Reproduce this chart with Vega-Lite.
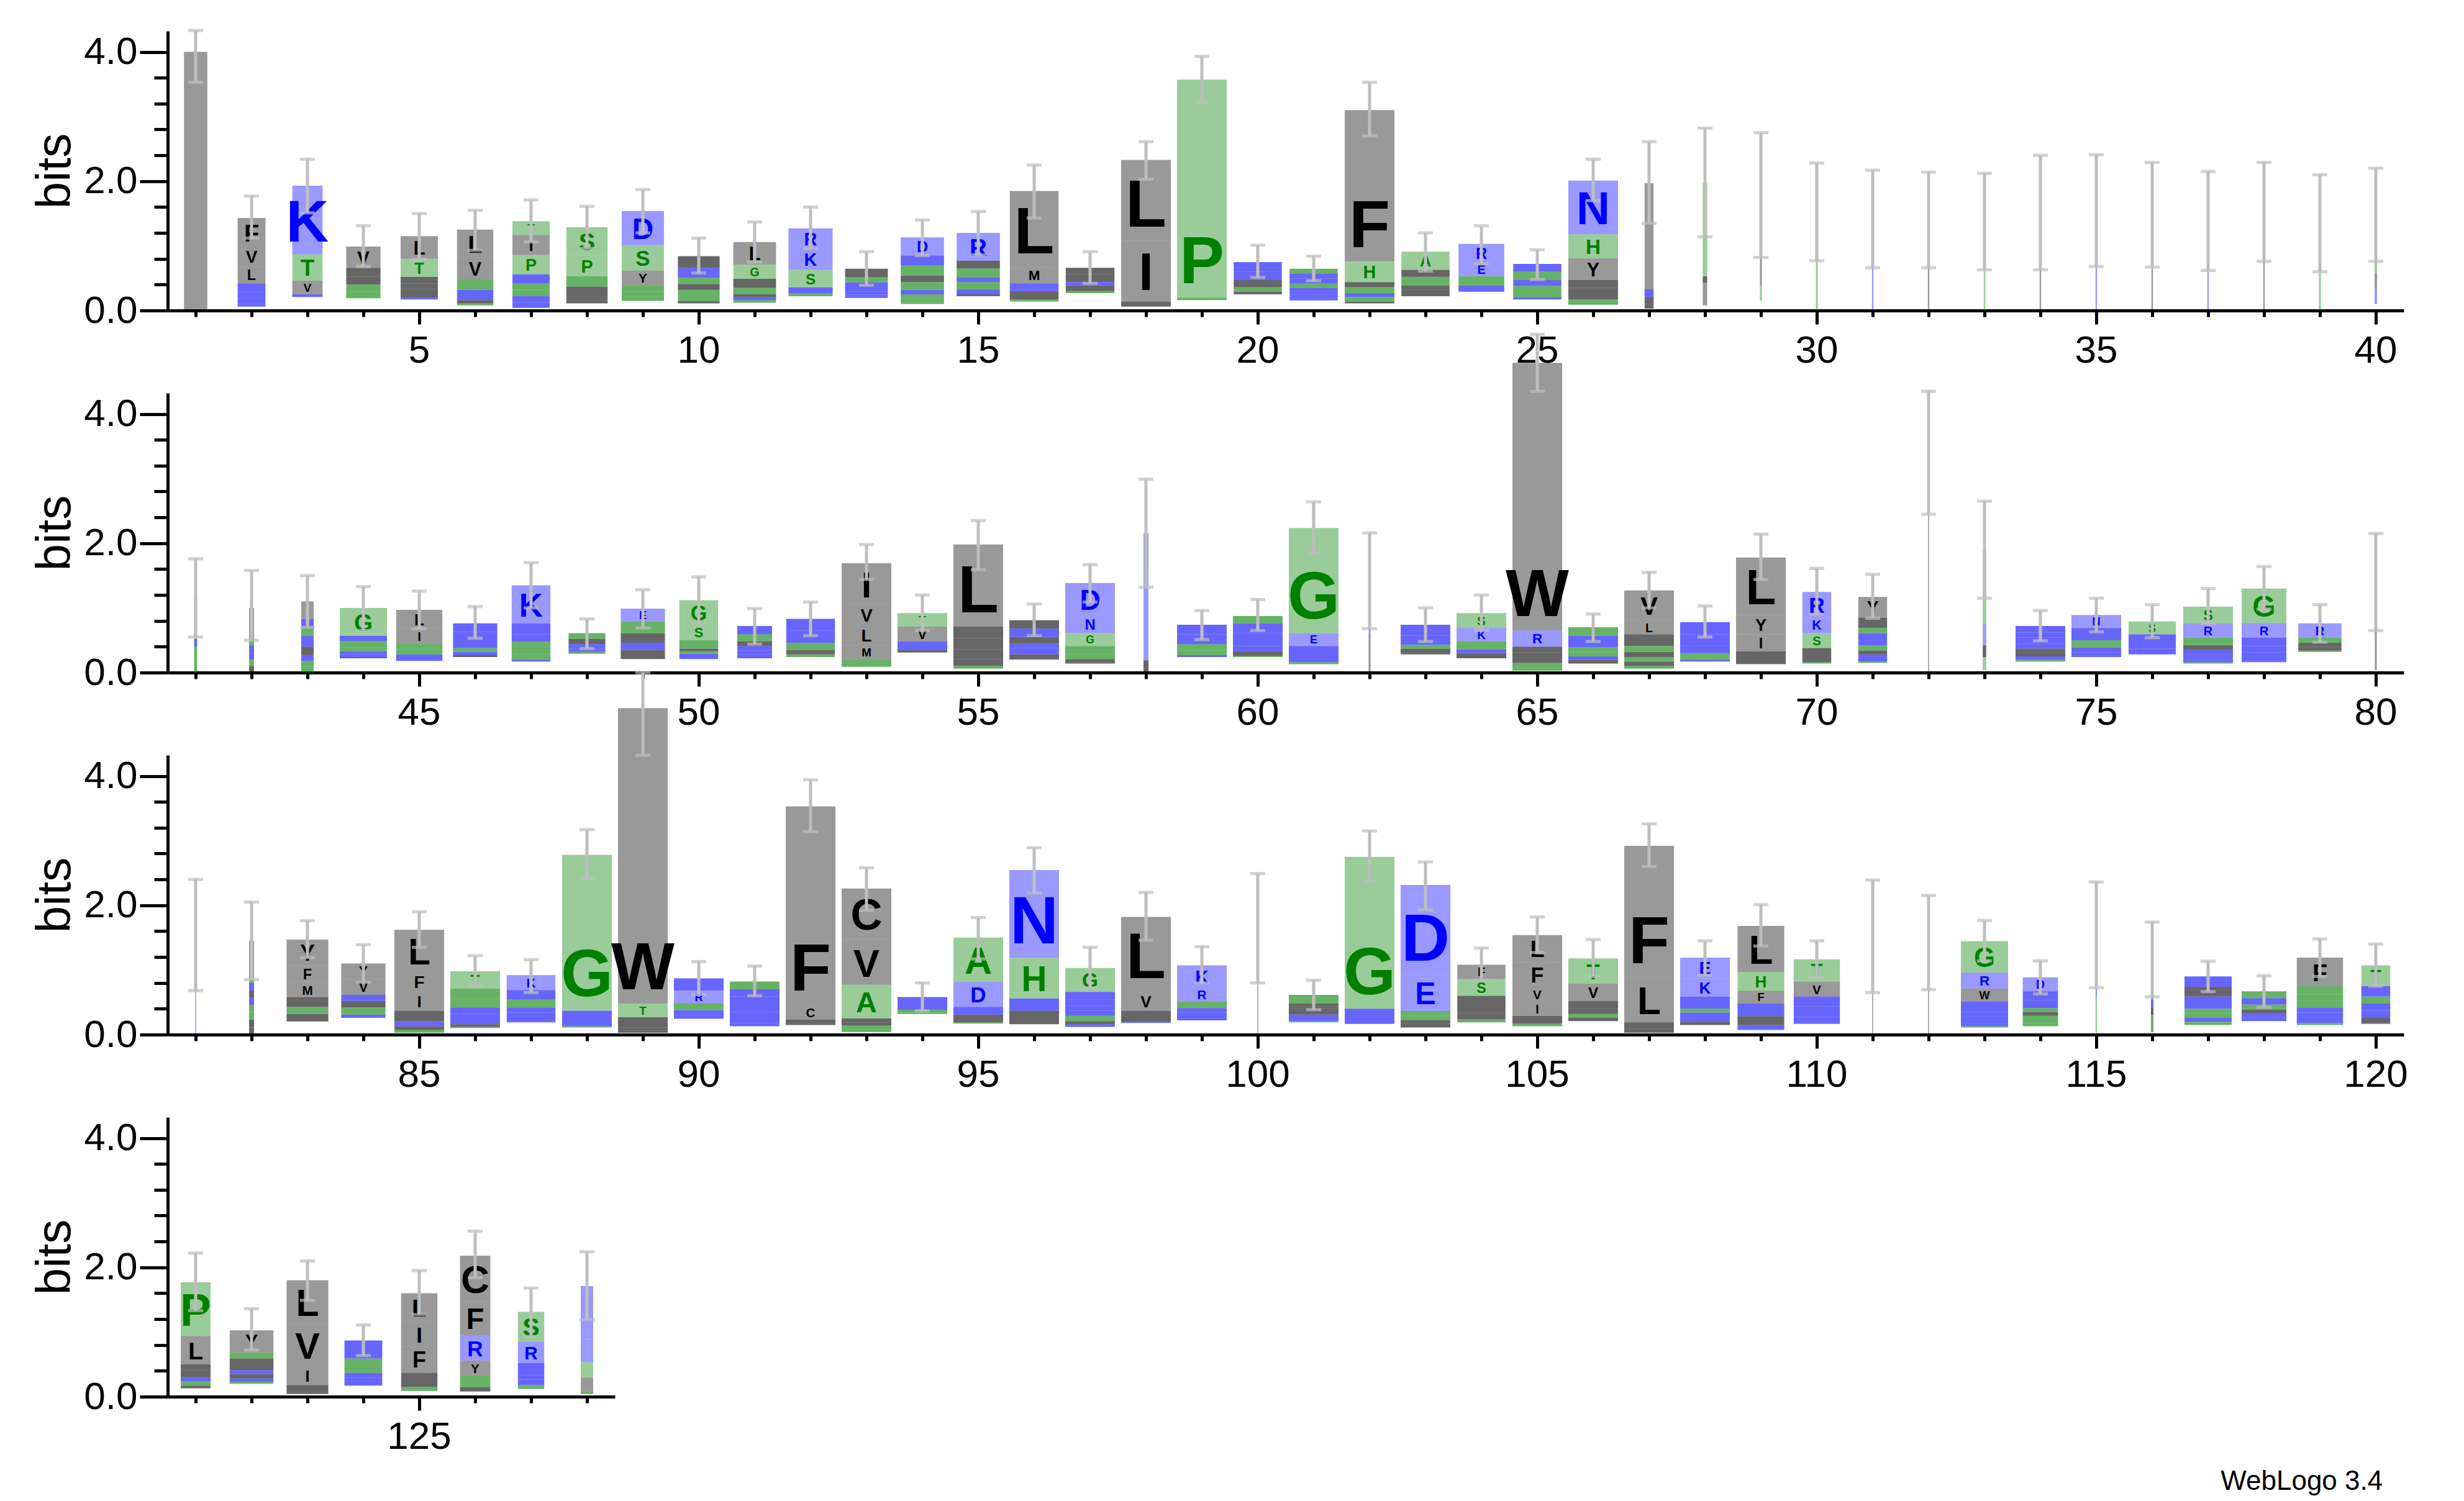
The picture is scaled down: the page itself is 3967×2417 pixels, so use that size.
{
"$schema": "https://vega.github.io/schema/vega-lite/v6.json",
"background": "white",
"padding": {"left": 50, "top": 46, "right": 10, "bottom": 10},
"bounds": "flush",
"spacing": 133,
"title": {"text": "WebLogo 3.4", "orient": "bottom", "anchor": "end", "fontSize": 44, "fontWeight": "normal", "font": "Liberation Sans", "color": "#000", "offset": 20, "dx": -40},
"config": {
 "view": {"stroke": null},
 "font": "Liberation Sans",
 "axis": {"domainWidth": 5, "tickWidth": 5, "domainColor": "#000", "tickColor": "#000", "labelColor": "#000", "titleColor": "#000", "labelFont": "Liberation Sans", "titleFont": "Liberation Sans", "labelFontSize": 62, "grid": false}
},
"datasets": {
"C": [
{"p":1,"lo":3.53,"hi":4.33},{"p":2,"lo":1.12,"hi":1.77},{"p":3,"lo":1.51,"hi":2.34},{"p":4,"lo":0.68,"hi":1.31},{"p":5,"lo":0.79,"hi":1.5},{"p":6,"lo":0.93,"hi":1.55},{"p":7,"lo":1.06,"hi":1.71},{"p":8,"lo":0.96,"hi":1.61},{"p":9,"lo":1.2,"hi":1.87},{"p":10,"lo":0.58,"hi":1.12},
{"p":11,"lo":0.75,"hi":1.37},{"p":12,"lo":0.96,"hi":1.6},{"p":13,"lo":0.39,"hi":0.91},{"p":14,"lo":0.85,"hi":1.4},{"p":15,"lo":0.86,"hi":1.53},{"p":16,"lo":1.43,"hi":2.25},{"p":17,"lo":0.42,"hi":0.91},{"p":18,"lo":2.03,"hi":2.61},{"p":19,"lo":3.22,"hi":3.93},{"p":20,"lo":0.51,"hi":1.01},
{"p":21,"lo":0.46,"hi":0.84},{"p":22,"lo":2.7,"hi":3.53},{"p":23,"lo":0.61,"hi":1.2},{"p":24,"lo":0.72,"hi":1.31},{"p":25,"lo":0.48,"hi":0.94},{"p":26,"lo":1.7,"hi":2.34},{"p":27,"lo":1.35,"hi":2.61},{"p":28,"lo":1.14,"hi":2.82},{"p":29,"lo":0.82,"hi":2.75},{"p":30,"lo":0.77,"hi":2.28},
{"p":31,"lo":0.66,"hi":2.17},{"p":32,"lo":0.66,"hi":2.14},{"p":33,"lo":0.63,"hi":2.12},{"p":34,"lo":0.63,"hi":2.4},{"p":35,"lo":0.68,"hi":2.41},{"p":36,"lo":0.67,"hi":2.29},{"p":37,"lo":0.62,"hi":2.15},{"p":38,"lo":0.76,"hi":2.29},{"p":39,"lo":0.6,"hi":2.1},{"p":40,"lo":0.76,"hi":2.2},
{"p":41,"lo":0.55,"hi":1.76},{"p":42,"lo":0.5,"hi":1.58},{"p":43,"lo":0.7,"hi":1.5},{"p":44,"lo":0.65,"hi":1.33},{"p":45,"lo":0.68,"hi":1.26},{"p":46,"lo":0.53,"hi":1.02},{"p":47,"lo":1.0,"hi":1.7},{"p":48,"lo":0.37,"hi":0.83},{"p":49,"lo":0.69,"hi":1.28},{"p":50,"lo":0.76,"hi":1.48},
{"p":51,"lo":0.44,"hi":0.99},{"p":52,"lo":0.57,"hi":1.09},{"p":53,"lo":1.44,"hi":1.98},{"p":54,"lo":0.65,"hi":1.2},{"p":55,"lo":1.59,"hi":2.35},{"p":56,"lo":0.57,"hi":1.06},{"p":57,"lo":1.09,"hi":1.67},{"p":58,"lo":1.32,"hi":2.99},{"p":59,"lo":0.51,"hi":0.96},{"p":60,"lo":0.65,"hi":1.13},
{"p":61,"lo":1.84,"hi":2.64},{"p":62,"lo":0.68,"hi":2.16},{"p":63,"lo":0.48,"hi":1.0},{"p":64,"lo":0.65,"hi":1.2},{"p":65,"lo":4.35,"hi":5.23},{"p":66,"lo":0.48,"hi":0.905},{"p":67,"lo":1.0,"hi":1.55},{"p":68,"lo":0.55,"hi":1.03},{"p":69,"lo":1.44,"hi":2.14},{"p":70,"lo":0.9,"hi":1.61},
{"p":71,"lo":0.84,"hi":1.52},{"p":72,"lo":2.45,"hi":4.35},{"p":73,"lo":1.15,"hi":2.65},{"p":74,"lo":0.49,"hi":0.96},{"p":75,"lo":0.63,"hi":1.15},{"p":76,"lo":0.54,"hi":1.05},{"p":77,"lo":0.76,"hi":1.3},{"p":78,"lo":0.98,"hi":1.64},{"p":79,"lo":0.47,"hi":1.05},{"p":80,"lo":0.65,"hi":2.15},
{"p":81,"lo":0.68,"hi":2.4},{"p":82,"lo":0.85,"hi":2.05},{"p":83,"lo":1.19,"hi":1.76},{"p":84,"lo":0.81,"hi":1.39},{"p":85,"lo":1.35,"hi":1.9},{"p":86,"lo":0.75,"hi":1.22},{"p":87,"lo":0.65,"hi":1.16},{"p":88,"lo":2.42,"hi":3.17},{"p":89,"lo":4.32,"hi":5.6},{"p":90,"lo":0.62,"hi":1.13},
{"p":91,"lo":0.6,"hi":1.06},{"p":92,"lo":3.14,"hi":3.94},{"p":93,"lo":1.92,"hi":2.58},{"p":94,"lo":0.37,"hi":0.8},{"p":95,"lo":1.17,"hi":1.81},{"p":96,"lo":2.19,"hi":2.89},{"p":97,"lo":0.725,"hi":1.35},{"p":98,"lo":1.46,"hi":2.2},{"p":99,"lo":0.8,"hi":1.36},{"p":100,"lo":0.8,"hi":2.49},
{"p":101,"lo":0.385,"hi":0.84},{"p":102,"lo":2.37,"hi":3.15},{"p":103,"lo":1.93,"hi":2.67},{"p":104,"lo":0.84,"hi":1.34},{"p":105,"lo":1.27,"hi":1.82},{"p":106,"lo":0.9,"hi":1.47},{"p":107,"lo":2.6,"hi":3.26},{"p":108,"lo":0.92,"hi":1.45},{"p":109,"lo":1.37,"hi":2.01},{"p":110,"lo":0.88,"hi":1.45},
{"p":111,"lo":0.65,"hi":2.39},{"p":112,"lo":0.695,"hi":2.15},{"p":113,"lo":1.14,"hi":1.765},{"p":114,"lo":0.63,"hi":1.14},{"p":115,"lo":0.725,"hi":2.36},{"p":116,"lo":0.585,"hi":1.74},{"p":117,"lo":0.665,"hi":1.135},{"p":118,"lo":0.42,"hi":0.91},{"p":119,"lo":0.9,"hi":1.48},{"p":120,"lo":0.75,"hi":1.4},
{"p":121,"lo":1.33,"hi":2.22},{"p":122,"lo":0.72,"hi":1.36},{"p":123,"lo":1.49,"hi":2.1},{"p":124,"lo":0.635,"hi":1.11},{"p":125,"lo":1.27,"hi":1.95},{"p":126,"lo":1.84,"hi":2.56},{"p":127,"lo":0.93,"hi":1.68},{"p":128,"lo":1.19,"hi":2.24}
],
"L": [
{"p":1,"w":0.47,"a":"M","b":4.0},
{"p":2,"w":0.56,"a":"-","b":0.06},{"p":2,"w":0.56,"a":"K","b":0.04},{"p":2,"w":0.56,"a":"Q","b":0.09},{"p":2,"w":0.56,"a":"D","b":0.09},{"p":2,"w":0.56,"a":"E","b":0.14},{"p":2,"w":0.56,"a":"L","b":0.26},{"p":2,"w":0.56,"a":"V","b":0.31},{"p":2,"w":0.56,"a":"F","b":0.44},
{"p":3,"w":0.61,"a":"-","b":0.21},{"p":3,"w":0.61,"a":"R","b":0.04},{"p":3,"w":0.61,"a":"V","b":0.21},{"p":3,"w":0.61,"a":"T","b":0.41},{"p":3,"w":0.61,"a":"K","b":1.06},
{"p":4,"w":0.69,"a":"-","b":0.19},{"p":4,"w":0.69,"a":"P","b":0.1},{"p":4,"w":0.69,"a":"A","b":0.11},{"p":4,"w":0.69,"a":"I","b":0.12},{"p":4,"w":0.69,"a":"L","b":0.14},{"p":4,"w":0.69,"a":"V","b":0.33},
{"p":5,"w":0.75,"a":"-","b":0.17},{"p":5,"w":0.75,"a":"K","b":0.03},{"p":5,"w":0.75,"a":"V","b":0.13},{"p":5,"w":0.75,"a":"M","b":0.09},{"p":5,"w":0.75,"a":"F","b":0.1},{"p":5,"w":0.75,"a":"T","b":0.28},{"p":5,"w":0.75,"a":"L","b":0.35},
{"p":6,"w":0.73,"a":"-","b":0.08},{"p":6,"w":0.73,"a":"S","b":0.03},{"p":6,"w":0.73,"a":"I","b":0.05},{"p":6,"w":0.73,"a":"R","b":0.07},{"p":6,"w":0.73,"a":"K","b":0.09},{"p":6,"w":0.73,"a":"T","b":0.16},{"p":6,"w":0.73,"a":"V","b":0.34},{"p":6,"w":0.73,"a":"L","b":0.43},
{"p":7,"w":0.75,"a":"-","b":0.04},{"p":7,"w":0.75,"a":"R","b":0.09},{"p":7,"w":0.75,"a":"N","b":0.09},{"p":7,"w":0.75,"a":"A","b":0.1},{"p":7,"w":0.75,"a":"S","b":0.1},{"p":7,"w":0.75,"a":"K","b":0.14},{"p":7,"w":0.75,"a":"P","b":0.3},{"p":7,"w":0.75,"a":"I","b":0.31},{"p":7,"w":0.75,"a":"T","b":0.21},
{"p":8,"w":0.83,"a":"-","b":0.11},{"p":8,"w":0.83,"a":"V","b":0.05},{"p":8,"w":0.83,"a":"I","b":0.05},{"p":8,"w":0.83,"a":"L","b":0.16},{"p":8,"w":0.83,"a":"A","b":0.16},{"p":8,"w":0.83,"a":"P","b":0.32},{"p":8,"w":0.83,"a":"S","b":0.44},
{"p":9,"w":0.85,"a":"-","b":0.15},{"p":9,"w":0.85,"a":"A","b":0.06},{"p":9,"w":0.85,"a":"P","b":0.08},{"p":9,"w":0.85,"a":"T","b":0.1},{"p":9,"w":0.85,"a":"Y","b":0.23},{"p":9,"w":0.85,"a":"S","b":0.39},{"p":9,"w":0.85,"a":"D","b":0.53},
{"p":10,"w":0.84,"a":"-","b":0.11},{"p":10,"w":0.84,"a":"V","b":0.04},{"p":10,"w":0.84,"a":"A","b":0.07},{"p":10,"w":0.84,"a":"T","b":0.1},{"p":10,"w":0.84,"a":"L","b":0.09},{"p":10,"w":0.84,"a":"S","b":0.1},{"p":10,"w":0.84,"a":"N","b":0.15},{"p":10,"w":0.84,"a":"Y","b":0.18},
{"p":11,"w":0.86,"a":"-","b":0.12},{"p":11,"w":0.86,"a":"A","b":0.04},{"p":11,"w":0.86,"a":"K","b":0.05},{"p":11,"w":0.86,"a":"I","b":0.04},{"p":11,"w":0.86,"a":"S","b":0.1},{"p":11,"w":0.86,"a":"F","b":0.14},{"p":11,"w":0.86,"a":"G","b":0.22},{"p":11,"w":0.86,"a":"L","b":0.35},
{"p":12,"w":0.89,"a":"-","b":0.22},{"p":12,"w":0.89,"a":"T","b":0.05},{"p":12,"w":0.89,"a":"Q","b":0.09},{"p":12,"w":0.89,"a":"S","b":0.27},{"p":12,"w":0.89,"a":"K","b":0.32},{"p":12,"w":0.89,"a":"R","b":0.32},
{"p":13,"w":0.86,"a":"-","b":0.195},{"p":13,"w":0.86,"a":"D","b":0.05},{"p":13,"w":0.86,"a":"E","b":0.05},{"p":13,"w":0.86,"a":"R","b":0.08},{"p":13,"w":0.86,"a":"N","b":0.06},{"p":13,"w":0.86,"a":"S","b":0.08},{"p":13,"w":0.86,"a":"L","b":0.13},
{"p":14,"w":0.87,"a":"-","b":0.1},{"p":14,"w":0.87,"a":"P","b":0.03},{"p":14,"w":0.87,"a":"T","b":0.06},{"p":14,"w":0.87,"a":"H","b":0.06},{"p":14,"w":0.87,"a":"R","b":0.07},{"p":14,"w":0.87,"a":"G","b":0.12},{"p":14,"w":0.87,"a":"C","b":0.1},{"p":14,"w":0.87,"a":"S","b":0.16},{"p":14,"w":0.87,"a":"N","b":0.15},{"p":14,"w":0.87,"a":"D","b":0.28},
{"p":15,"w":0.87,"a":"-","b":0.22},{"p":15,"w":0.87,"a":"L","b":0.03},{"p":15,"w":0.87,"a":"Q","b":0.08},{"p":15,"w":0.87,"a":"S","b":0.11},{"p":15,"w":0.87,"a":"K","b":0.07},{"p":15,"w":0.87,"a":"T","b":0.14},{"p":15,"w":0.87,"a":"M","b":0.12},{"p":15,"w":0.87,"a":"R","b":0.43},
{"p":16,"w":0.98,"a":"-","b":0.14},{"p":16,"w":0.98,"a":"T","b":0.03},{"p":16,"w":0.98,"a":"V","b":0.06},{"p":16,"w":0.98,"a":"I","b":0.07},{"p":16,"w":0.98,"a":"R","b":0.12},{"p":16,"w":0.98,"a":"M","b":0.25},{"p":16,"w":0.98,"a":"L","b":1.18},
{"p":17,"w":0.98,"a":"-","b":0.27},{"p":17,"w":0.98,"a":"T","b":0.03},{"p":17,"w":0.98,"a":"L","b":0.09},{"p":17,"w":0.98,"a":"R","b":0.05},{"p":17,"w":0.98,"a":"Y","b":0.12},{"p":17,"w":0.98,"a":"V","b":0.1},
{"p":18,"w":1,"a":"-","b":0.06},{"p":18,"w":1,"a":"V","b":0.08},{"p":18,"w":1,"a":"I","b":0.94},{"p":18,"w":1,"a":"L","b":1.25},
{"p":19,"w":1,"a":"-","b":0.16},{"p":19,"w":1,"a":"S","b":0.04},{"p":19,"w":1,"a":"P","b":3.37},
{"p":20,"w":0.97,"a":"-","b":0.25},{"p":20,"w":0.97,"a":"I","b":0.04},{"p":20,"w":0.97,"a":"T","b":0.07},{"p":20,"w":0.97,"a":"V","b":0.11},{"p":20,"w":0.97,"a":"R","b":0.13},{"p":20,"w":0.97,"a":"K","b":0.15},
{"p":21,"w":0.97,"a":"-","b":0.155},{"p":21,"w":0.97,"a":"R","b":0.04},{"p":21,"w":0.97,"a":"N","b":0.05},{"p":21,"w":0.97,"a":"D","b":0.05},{"p":21,"w":0.97,"a":"E","b":0.05},{"p":21,"w":0.97,"a":"S","b":0.07},{"p":21,"w":0.97,"a":"K","b":0.08},{"p":21,"w":0.97,"a":"Q","b":0.08},{"p":21,"w":0.97,"a":"A","b":0.07},
{"p":22,"w":1,"a":"-","b":0.11},{"p":22,"w":1,"a":"V","b":0.03},{"p":22,"w":1,"a":"S","b":0.07},{"p":22,"w":1,"a":"N","b":0.06},{"p":22,"w":1,"a":"A","b":0.09},{"p":22,"w":1,"a":"C","b":0.08},{"p":22,"w":1,"a":"H","b":0.32},{"p":22,"w":1,"a":"F","b":2.34},
{"p":23,"w":0.97,"a":"-","b":0.22},{"p":23,"w":0.97,"a":"I","b":0.03},{"p":23,"w":0.97,"a":"M","b":0.07},{"p":23,"w":0.97,"a":"L","b":0.07},{"p":23,"w":0.97,"a":"T","b":0.13},{"p":23,"w":0.97,"a":"V","b":0.11},{"p":23,"w":0.97,"a":"A","b":0.28},
{"p":24,"w":0.92,"a":"-","b":0.29},{"p":24,"w":0.92,"a":"K","b":0.1},{"p":24,"w":0.92,"a":"S","b":0.14},{"p":24,"w":0.92,"a":"E","b":0.22},{"p":24,"w":0.92,"a":"R","b":0.28},
{"p":25,"w":0.97,"a":"-","b":0.17},{"p":25,"w":0.97,"a":"N","b":0.04},{"p":25,"w":0.97,"a":"A","b":0.17},{"p":25,"w":0.97,"a":"E","b":0.09},{"p":25,"w":0.97,"a":"S","b":0.13},{"p":25,"w":0.97,"a":"K","b":0.12},
{"p":26,"w":1,"a":"-","b":0.09},{"p":26,"w":1,"a":"S","b":0.08},{"p":26,"w":1,"a":"V","b":0.09},{"p":26,"w":1,"a":"I","b":0.09},{"p":26,"w":1,"a":"L","b":0.12},{"p":26,"w":1,"a":"Y","b":0.34},{"p":26,"w":1,"a":"H","b":0.37},{"p":26,"w":1,"a":"N","b":0.83},
{"p":27,"w":0.18,"a":"-","b":0.03},{"p":27,"w":0.18,"a":"V","b":0.07},{"p":27,"w":0.18,"a":"I","b":0.11},{"p":27,"w":0.18,"a":"D","b":0.12},{"p":27,"w":0.18,"a":"L","b":1.02},{"p":27,"w":0.18,"a":"C","b":0.62},
{"p":28,"w":0.09,"a":"-","b":0.08},{"p":28,"w":0.09,"a":"L","b":0.35},{"p":28,"w":0.09,"a":"F","b":0.1},{"p":28,"w":0.09,"a":"G","b":1.44},
{"p":29,"w":0.04,"a":"-","b":0.15},{"p":29,"w":0.04,"a":"A","b":0.23},{"p":29,"w":0.04,"a":"L","b":0.25},{"p":29,"w":0.04,"a":"V","b":1.15},
{"p":30,"w":0.04,"a":"S","b":0.3},{"p":30,"w":0.04,"a":"G","b":1.1},{"p":30,"w":0.04,"a":"N","b":0.12},
{"p":31,"w":0.03,"a":"K","b":1.42},
{"p":32,"w":0.03,"a":"L","b":1.3},{"p":32,"w":0.03,"a":"E","b":0.1},
{"p":33,"w":0.03,"a":"S","b":1.29},{"p":33,"w":0.03,"a":"D","b":0.08},
{"p":34,"w":0.03,"a":"L","b":1.52},
{"p":35,"w":0.03,"a":"K","b":1.55},
{"p":36,"w":0.03,"a":"V","b":1.38},{"p":36,"w":0.03,"a":"G","b":0.1},
{"p":37,"w":0.03,"a":"K","b":0.78},{"p":37,"w":0.03,"a":"S","b":0.6},
{"p":38,"w":0.03,"a":"I","b":1.22},{"p":38,"w":0.03,"a":"T","b":0.3},
{"p":39,"w":0.04,"a":"G","b":0.65},{"p":39,"w":0.04,"a":"R","b":0.7},
{"p":40,"w":0.05,"a":"-","b":0.1},{"p":40,"w":0.05,"a":"Q","b":0.23},{"p":40,"w":0.05,"a":"L","b":0.25},{"p":40,"w":0.05,"a":"A","b":0.3},{"p":40,"w":0.05,"a":"K","b":0.6},
{"p":41,"w":0.06,"a":"A","b":0.18},{"p":41,"w":0.06,"a":"T","b":0.08},{"p":41,"w":0.06,"a":"S","b":0.14},{"p":41,"w":0.06,"a":"N","b":0.12},{"p":41,"w":0.06,"a":"G","b":0.63},
{"p":42,"w":0.1,"a":"V","b":0.1},{"p":42,"w":0.1,"a":"P","b":0.1},{"p":42,"w":0.1,"a":"K","b":0.1},{"p":42,"w":0.1,"a":"E","b":0.12},{"p":42,"w":0.1,"a":"S","b":0.18},{"p":42,"w":0.1,"a":"L","b":0.4},
{"p":43,"w":0.25,"a":"A","b":0.09},{"p":43,"w":0.25,"a":"S","b":0.09},{"p":43,"w":0.25,"a":"N","b":0.09},{"p":43,"w":0.25,"a":"I","b":0.13},{"p":43,"w":0.25,"a":"E","b":0.17},{"p":43,"w":0.25,"a":"T","b":0.12},{"p":43,"w":0.25,"a":"D","b":0.14},{"p":43,"w":0.25,"a":"L","b":0.27},
{"p":44,"w":0.95,"a":"-","b":0.22},{"p":44,"w":0.95,"a":"V","b":0.02},{"p":44,"w":0.95,"a":"D","b":0.04},{"p":44,"w":0.95,"a":"N","b":0.05},{"p":44,"w":0.95,"a":"T","b":0.06},{"p":44,"w":0.95,"a":"S","b":0.1},{"p":44,"w":0.95,"a":"E","b":0.08},{"p":44,"w":0.95,"a":"G","b":0.43},
{"p":45,"w":0.93,"a":"-","b":0.18},{"p":45,"w":0.93,"a":"N","b":0.04},{"p":45,"w":0.93,"a":"Q","b":0.06},{"p":45,"w":0.93,"a":"G","b":0.08},{"p":45,"w":0.93,"a":"S","b":0.09},{"p":45,"w":0.93,"a":"I","b":0.23},{"p":45,"w":0.93,"a":"L","b":0.29},
{"p":46,"w":0.89,"a":"-","b":0.24},{"p":46,"w":0.89,"a":"L","b":0.03},{"p":46,"w":0.89,"a":"D","b":0.05},{"p":46,"w":0.89,"a":"S","b":0.06},{"p":46,"w":0.89,"a":"E","b":0.1},{"p":46,"w":0.89,"a":"N","b":0.15},{"p":46,"w":0.89,"a":"K","b":0.13},
{"p":47,"w":0.78,"a":"-","b":0.17},{"p":47,"w":0.78,"a":"D","b":0.03},{"p":47,"w":0.78,"a":"T","b":0.08},{"p":47,"w":0.78,"a":"S","b":0.12},{"p":47,"w":0.78,"a":"P","b":0.08},{"p":47,"w":0.78,"a":"N","b":0.11},{"p":47,"w":0.78,"a":"E","b":0.17},{"p":47,"w":0.78,"a":"K","b":0.59},
{"p":48,"w":0.74,"a":"-","b":0.29},{"p":48,"w":0.74,"a":"T","b":0.03},{"p":48,"w":0.74,"a":"E","b":0.05},{"p":48,"w":0.74,"a":"R","b":0.07},{"p":48,"w":0.74,"a":"I","b":0.08},{"p":48,"w":0.74,"a":"P","b":0.09},
{"p":49,"w":0.89,"a":"-","b":0.21},{"p":49,"w":0.89,"a":"I","b":0.04},{"p":49,"w":0.89,"a":"C","b":0.1},{"p":49,"w":0.89,"a":"K","b":0.11},{"p":49,"w":0.89,"a":"L","b":0.15},{"p":49,"w":0.89,"a":"G","b":0.18},{"p":49,"w":0.89,"a":"E","b":0.2},
{"p":50,"w":0.78,"a":"-","b":0.21},{"p":50,"w":0.78,"a":"D","b":0.04},{"p":50,"w":0.78,"a":"E","b":0.04},{"p":50,"w":0.78,"a":"T","b":0.04},{"p":50,"w":0.78,"a":"L","b":0.04},{"p":50,"w":0.78,"a":"P","b":0.13},{"p":50,"w":0.78,"a":"S","b":0.24},{"p":50,"w":0.78,"a":"G","b":0.38},
{"p":51,"w":0.7,"a":"-","b":0.22},{"p":51,"w":0.7,"a":"N","b":0.06},{"p":51,"w":0.7,"a":"D","b":0.06},{"p":51,"w":0.7,"a":"E","b":0.07},{"p":51,"w":0.7,"a":"L","b":0.07},{"p":51,"w":0.7,"a":"T","b":0.11},{"p":51,"w":0.7,"a":"K","b":0.13},
{"p":52,"w":0.98,"a":"-","b":0.24},{"p":52,"w":0.98,"a":"S","b":0.04},{"p":52,"w":0.98,"a":"I","b":0.07},{"p":52,"w":0.98,"a":"T","b":0.11},{"p":52,"w":0.98,"a":"K","b":0.19},{"p":52,"w":0.98,"a":"E","b":0.18},
{"p":53,"w":1,"a":"-","b":0.09},{"p":53,"w":1,"a":"A","b":0.12},{"p":53,"w":1,"a":"M","b":0.21},{"p":53,"w":1,"a":"L","b":0.31},{"p":53,"w":1,"a":"V","b":0.32},{"p":53,"w":1,"a":"I","b":0.64},
{"p":54,"w":1,"a":"-","b":0.31},{"p":54,"w":1,"a":"I","b":0.04},{"p":54,"w":1,"a":"K","b":0.13},{"p":54,"w":1,"a":"V","b":0.23},{"p":54,"w":1,"a":"T","b":0.21},
{"p":55,"w":1,"a":"-","b":0.06},{"p":55,"w":1,"a":"T","b":0.04},{"p":55,"w":1,"a":"V","b":0.11},{"p":55,"w":1,"a":"M","b":0.15},{"p":55,"w":1,"a":"I","b":0.17},{"p":55,"w":1,"a":"F","b":0.18},{"p":55,"w":1,"a":"L","b":1.27},
{"p":56,"w":1,"a":"-","b":0.2},{"p":56,"w":1,"a":"N","b":0.01},{"p":56,"w":1,"a":"V","b":0.07},{"p":56,"w":1,"a":"Q","b":0.1},{"p":56,"w":1,"a":"E","b":0.07},{"p":56,"w":1,"a":"M","b":0.1},{"p":56,"w":1,"a":"R","b":0.13},{"p":56,"w":1,"a":"L","b":0.13},
{"p":57,"w":1,"a":"-","b":0.14},{"p":57,"w":1,"a":"V","b":0.02},{"p":57,"w":1,"a":"I","b":0.05},{"p":57,"w":1,"a":"T","b":0.07},{"p":57,"w":1,"a":"S","b":0.13},{"p":57,"w":1,"a":"G","b":0.2},{"p":57,"w":1,"a":"N","b":0.265},{"p":57,"w":1,"a":"D","b":0.51},
{"p":58,"w":0.1,"a":"I","b":0.19},{"p":58,"w":0.1,"a":"E","b":0.25},{"p":58,"w":0.1,"a":"D","b":1.72},
{"p":59,"w":1,"a":"-","b":0.24},{"p":59,"w":1,"a":"R","b":0.03},{"p":59,"w":1,"a":"P","b":0.08},{"p":59,"w":1,"a":"A","b":0.09},{"p":59,"w":1,"a":"K","b":0.15},{"p":59,"w":1,"a":"E","b":0.15},
{"p":60,"w":1,"a":"-","b":0.24},{"p":60,"w":1,"a":"T","b":0.02},{"p":60,"w":1,"a":"W","b":0.07},{"p":60,"w":1,"a":"E","b":0.08},{"p":60,"w":1,"a":"N","b":0.1},{"p":60,"w":1,"a":"K","b":0.1},{"p":60,"w":1,"a":"D","b":0.15},{"p":60,"w":1,"a":"S","b":0.115},
{"p":61,"w":1,"a":"-","b":0.13},{"p":61,"w":1,"a":"S","b":0.03},{"p":61,"w":1,"a":"N","b":0.09},{"p":61,"w":1,"a":"D","b":0.16},{"p":61,"w":1,"a":"E","b":0.2},{"p":61,"w":1,"a":"G","b":1.625},
{"p":62,"w":0.04,"a":"L","b":0.6},{"p":62,"w":0.04,"a":"D","b":0.2},{"p":62,"w":0.04,"a":"N","b":0.62},
{"p":63,"w":1,"a":"-","b":0.28},{"p":63,"w":1,"a":"V","b":0.02},{"p":63,"w":1,"a":"L","b":0.07},{"p":63,"w":1,"a":"T","b":0.06},{"p":63,"w":1,"a":"R","b":0.14},{"p":63,"w":1,"a":"K","b":0.17},
{"p":64,"w":1,"a":"-","b":0.22},{"p":64,"w":1,"a":"V","b":0.02},{"p":64,"w":1,"a":"L","b":0.06},{"p":64,"w":1,"a":"N","b":0.06},{"p":64,"w":1,"a":"T","b":0.12},{"p":64,"w":1,"a":"K","b":0.21},{"p":64,"w":1,"a":"S","b":0.23},
{"p":65,"w":1,"a":"-","b":0.03},{"p":65,"w":1,"a":"A","b":0.04},{"p":65,"w":1,"a":"S","b":0.08},{"p":65,"w":1,"a":"L","b":0.07},{"p":65,"w":1,"a":"V","b":0.09},{"p":65,"w":1,"a":"F","b":0.09},{"p":65,"w":1,"a":"R","b":0.25},{"p":65,"w":1,"a":"W","b":4.14},
{"p":66,"w":1,"a":"-","b":0.14},{"p":66,"w":1,"a":"I","b":0.06},{"p":66,"w":1,"a":"Q","b":0.05},{"p":66,"w":1,"a":"S","b":0.06},{"p":66,"w":1,"a":"P","b":0.08},{"p":66,"w":1,"a":"R","b":0.09},{"p":66,"w":1,"a":"E","b":0.09},{"p":66,"w":1,"a":"T","b":0.13},
{"p":67,"w":1,"a":"-","b":0.06},{"p":67,"w":1,"a":"S","b":0.04},{"p":67,"w":1,"a":"I","b":0.07},{"p":67,"w":1,"a":"A","b":0.07},{"p":67,"w":1,"a":"M","b":0.08},{"p":67,"w":1,"a":"T","b":0.09},{"p":67,"w":1,"a":"F","b":0.18},{"p":67,"w":1,"a":"L","b":0.22},{"p":67,"w":1,"a":"V","b":0.46},
{"p":68,"w":1,"a":"-","b":0.17},{"p":68,"w":1,"a":"Q","b":0.03},{"p":68,"w":1,"a":"S","b":0.1},{"p":68,"w":1,"a":"E","b":0.12},{"p":68,"w":1,"a":"N","b":0.08},{"p":68,"w":1,"a":"R","b":0.09},{"p":68,"w":1,"a":"K","b":0.19},
{"p":69,"w":1,"a":"-","b":0.13},{"p":69,"w":1,"a":"M","b":0.1},{"p":69,"w":1,"a":"F","b":0.1},{"p":69,"w":1,"a":"I","b":0.26},{"p":69,"w":1,"a":"Y","b":0.3},{"p":69,"w":1,"a":"L","b":0.89},
{"p":70,"w":0.58,"a":"-","b":0.14},{"p":70,"w":0.58,"a":"T","b":0.02},{"p":70,"w":0.58,"a":"V","b":0.1},{"p":70,"w":0.58,"a":"L","b":0.12},{"p":70,"w":0.58,"a":"S","b":0.23},{"p":70,"w":0.58,"a":"K","b":0.24},{"p":70,"w":0.58,"a":"R","b":0.395},
{"p":71,"w":0.58,"a":"-","b":0.15},{"p":71,"w":0.58,"a":"T","b":0.02},{"p":71,"w":0.58,"a":"Q","b":0.11},{"p":71,"w":0.58,"a":"L","b":0.06},{"p":71,"w":0.58,"a":"S","b":0.08},{"p":71,"w":0.58,"a":"R","b":0.09},{"p":71,"w":0.58,"a":"K","b":0.1},{"p":71,"w":0.58,"a":"H","b":0.08},{"p":71,"w":0.58,"a":"F","b":0.16},{"p":71,"w":0.58,"a":"Y","b":0.32},
{"p":72,"w":0.02,"a":"C","b":3.55},
{"p":73,"w":0.07,"a":"-","b":0.04},{"p":73,"w":0.07,"a":"S","b":0.2},{"p":73,"w":0.07,"a":"C","b":0.18},{"p":73,"w":0.07,"a":"D","b":0.34},{"p":73,"w":0.07,"a":"G","b":1.14},
{"p":74,"w":1,"a":"-","b":0.17},{"p":74,"w":1,"a":"T","b":0.03},{"p":74,"w":1,"a":"Q","b":0.05},{"p":74,"w":1,"a":"V","b":0.06},{"p":74,"w":1,"a":"L","b":0.06},{"p":74,"w":1,"a":"K","b":0.08},{"p":74,"w":1,"a":"E","b":0.09},{"p":74,"w":1,"a":"D","b":0.08},{"p":74,"w":1,"a":"N","b":0.1},
{"p":75,"w":1,"a":"-","b":0.24},{"p":75,"w":1,"a":"D","b":0.07},{"p":75,"w":1,"a":"E","b":0.08},{"p":75,"w":1,"a":"G","b":0.11},{"p":75,"w":1,"a":"K","b":0.19},{"p":75,"w":1,"a":"N","b":0.2},
{"p":76,"w":0.95,"a":"-","b":0.28},{"p":76,"w":0.95,"a":"R","b":0.09},{"p":76,"w":0.95,"a":"K","b":0.11},{"p":76,"w":0.95,"a":"N","b":0.11},{"p":76,"w":0.95,"a":"S","b":0.2},
{"p":77,"w":1,"a":"-","b":0.14},{"p":77,"w":1,"a":"T","b":0.02},{"p":77,"w":1,"a":"Q","b":0.05},{"p":77,"w":1,"a":"N","b":0.07},{"p":77,"w":1,"a":"K","b":0.07},{"p":77,"w":1,"a":"L","b":0.075},{"p":77,"w":1,"a":"G","b":0.115},{"p":77,"w":1,"a":"R","b":0.22},{"p":77,"w":1,"a":"S","b":0.26},
{"p":78,"w":0.9,"a":"-","b":0.16},{"p":78,"w":0.9,"a":"K","b":0.01},{"p":78,"w":0.9,"a":"D","b":0.08},{"p":78,"w":0.9,"a":"E","b":0.06},{"p":78,"w":0.9,"a":"N","b":0.1},{"p":78,"w":0.9,"a":"Q","b":0.13},{"p":78,"w":0.9,"a":"R","b":0.225},{"p":78,"w":0.9,"a":"G","b":0.535},
{"p":79,"w":0.87,"a":"-","b":0.32},{"p":79,"w":0.87,"a":"T","b":0.02},{"p":79,"w":0.87,"a":"I","b":0.06},{"p":79,"w":0.87,"a":"L","b":0.06},{"p":79,"w":0.87,"a":"S","b":0.08},{"p":79,"w":0.87,"a":"R","b":0.22},
{"p":80,"w":0.04,"a":"-","b":0.04},{"p":80,"w":0.04,"a":"V","b":0.59},{"p":80,"w":0.04,"a":"K","b":0.77},
{"p":81,"w":0.02,"a":"N","b":0.72},{"p":81,"w":0.02,"a":"K","b":0.8},
{"p":82,"w":0.1,"a":"W","b":0.11},{"p":82,"w":0.1,"a":"V","b":0.12},{"p":82,"w":0.1,"a":"T","b":0.12},{"p":82,"w":0.1,"a":"P","b":0.11},{"p":82,"w":0.1,"a":"N","b":0.11},{"p":82,"w":0.1,"a":"I","b":0.11},{"p":82,"w":0.1,"a":"K","b":0.12},{"p":82,"w":0.1,"a":"G","b":0.12},{"p":82,"w":0.1,"a":"L","b":0.53},
{"p":83,"w":0.84,"a":"-","b":0.2},{"p":83,"w":0.84,"a":"A","b":0.01},{"p":83,"w":0.84,"a":"V","b":0.11},{"p":83,"w":0.84,"a":"T","b":0.11},{"p":83,"w":0.84,"a":"I","b":0.15},{"p":83,"w":0.84,"a":"M","b":0.23},{"p":83,"w":0.84,"a":"F","b":0.26},{"p":83,"w":0.84,"a":"Y","b":0.4},
{"p":84,"w":0.89,"a":"-","b":0.26},{"p":84,"w":0.89,"a":"E","b":0.05},{"p":84,"w":0.89,"a":"S","b":0.11},{"p":84,"w":0.89,"a":"M","b":0.1},{"p":84,"w":0.89,"a":"R","b":0.095},{"p":84,"w":0.89,"a":"V","b":0.245},{"p":84,"w":0.89,"a":"Y","b":0.24},
{"p":85,"w":1,"a":"-","b":0.03},{"p":85,"w":1,"a":"T","b":0.04},{"p":85,"w":1,"a":"V","b":0.06},{"p":85,"w":1,"a":"E","b":0.08},{"p":85,"w":1,"a":"M","b":0.16},{"p":85,"w":1,"a":"I","b":0.29},{"p":85,"w":1,"a":"F","b":0.31},{"p":85,"w":1,"a":"L","b":0.65},
{"p":86,"w":1,"a":"-","b":0.1},{"p":86,"w":1,"a":"A","b":0.02},{"p":86,"w":1,"a":"V","b":0.04},{"p":86,"w":1,"a":"D","b":0.08},{"p":86,"w":1,"a":"E","b":0.08},{"p":86,"w":1,"a":"R","b":0.1},{"p":86,"w":1,"a":"S","b":0.13},{"p":86,"w":1,"a":"G","b":0.16},{"p":86,"w":1,"a":"T","b":0.27},
{"p":87,"w":0.98,"a":"-","b":0.19},{"p":87,"w":0.98,"a":"Q","b":0.02},{"p":87,"w":0.98,"a":"E","b":0.05},{"p":87,"w":0.98,"a":"N","b":0.08},{"p":87,"w":0.98,"a":"D","b":0.08},{"p":87,"w":0.98,"a":"G","b":0.12},{"p":87,"w":0.98,"a":"R","b":0.15},{"p":87,"w":0.98,"a":"K","b":0.23},
{"p":88,"w":1,"a":"-","b":0.11},{"p":88,"w":1,"a":"S","b":0.02},{"p":88,"w":1,"a":"D","b":0.09},{"p":88,"w":1,"a":"N","b":0.15},{"p":88,"w":1,"a":"G","b":2.41},
{"p":89,"w":1,"a":"-","b":0.03},{"p":89,"w":1,"a":"L","b":0.03},{"p":89,"w":1,"a":"I","b":0.05},{"p":89,"w":1,"a":"V","b":0.16},{"p":89,"w":1,"a":"T","b":0.21},{"p":89,"w":1,"a":"W","b":4.57},
{"p":90,"w":1,"a":"-","b":0.245},{"p":90,"w":1,"a":"E","b":0.05},{"p":90,"w":1,"a":"N","b":0.085},{"p":90,"w":1,"a":"S","b":0.1},{"p":90,"w":1,"a":"R","b":0.2},{"p":90,"w":1,"a":"K","b":0.19},
{"p":91,"w":1,"a":"-","b":0.13},{"p":91,"w":1,"a":"Q","b":0.05},{"p":91,"w":1,"a":"N","b":0.06},{"p":91,"w":1,"a":"D","b":0.11},{"p":91,"w":1,"a":"R","b":0.11},{"p":91,"w":1,"a":"K","b":0.13},{"p":91,"w":1,"a":"E","b":0.11},{"p":91,"w":1,"a":"S","b":0.12},
{"p":92,"w":1,"a":"-","b":0.15},{"p":92,"w":1,"a":"I","b":0.02},{"p":92,"w":1,"a":"L","b":0.06},{"p":92,"w":1,"a":"C","b":0.23},{"p":92,"w":1,"a":"F","b":3.07},
{"p":93,"w":1,"a":"-","b":0.04},{"p":93,"w":1,"a":"S","b":0.04},{"p":93,"w":1,"a":"T","b":0.06},{"p":93,"w":1,"a":"I","b":0.05},{"p":93,"w":1,"a":"L","b":0.06},{"p":93,"w":1,"a":"A","b":0.52},{"p":93,"w":1,"a":"V","b":0.705},{"p":93,"w":1,"a":"C","b":0.785},
{"p":94,"w":1,"a":"-","b":0.32},{"p":94,"w":1,"a":"T","b":0.02},{"p":94,"w":1,"a":"S","b":0.045},{"p":94,"w":1,"a":"E","b":0.075},{"p":94,"w":1,"a":"K","b":0.12},
{"p":95,"w":1,"a":"-","b":0.17},{"p":95,"w":1,"a":"S","b":0.02},{"p":95,"w":1,"a":"V","b":0.12},{"p":95,"w":1,"a":"E","b":0.12},{"p":95,"w":1,"a":"D","b":0.39},{"p":95,"w":1,"a":"A","b":0.68},
{"p":96,"w":1,"a":"-","b":0.16},{"p":96,"w":1,"a":"M","b":0.1},{"p":96,"w":1,"a":"V","b":0.11},{"p":96,"w":1,"a":"K","b":0.19},{"p":96,"w":1,"a":"H","b":0.63},{"p":96,"w":1,"a":"N","b":1.355},
{"p":97,"w":1,"a":"-","b":0.12},{"p":97,"w":1,"a":"R","b":0.04},{"p":97,"w":1,"a":"Y","b":0.05},{"p":97,"w":1,"a":"T","b":0.08},{"p":97,"w":1,"a":"K","b":0.08},{"p":97,"w":1,"a":"E","b":0.08},{"p":97,"w":1,"a":"N","b":0.09},{"p":97,"w":1,"a":"D","b":0.12},{"p":97,"w":1,"a":"G","b":0.37},
{"p":98,"w":1,"a":"-","b":0.18},{"p":98,"w":1,"a":"N","b":0.02},{"p":98,"w":1,"a":"I","b":0.17},{"p":98,"w":1,"a":"V","b":0.29},{"p":98,"w":1,"a":"L","b":1.16},
{"p":99,"w":1,"a":"-","b":0.22},{"p":99,"w":1,"a":"N","b":0.03},{"p":99,"w":1,"a":"E","b":0.09},{"p":99,"w":1,"a":"D","b":0.07},{"p":99,"w":1,"a":"G","b":0.1},{"p":99,"w":1,"a":"R","b":0.23},{"p":99,"w":1,"a":"K","b":0.33},
{"p":100,"w":0.02,"a":"L","b":1.5},{"p":100,"w":0.02,"a":"N","b":0.15},
{"p":101,"w":1,"a":"-","b":0.19},{"p":101,"w":1,"a":"T","b":0.02},{"p":101,"w":1,"a":"N","b":0.1},{"p":101,"w":1,"a":"V","b":0.09},{"p":101,"w":1,"a":"I","b":0.04},{"p":101,"w":1,"a":"L","b":0.04},{"p":101,"w":1,"a":"A","b":0.135},
{"p":102,"w":1,"a":"-","b":0.165},{"p":102,"w":1,"a":"D","b":0.055},{"p":102,"w":1,"a":"N","b":0.18},{"p":102,"w":1,"a":"G","b":2.35},
{"p":103,"w":1,"a":"-","b":0.11},{"p":103,"w":1,"a":"I","b":0.055},{"p":103,"w":1,"a":"V","b":0.06},{"p":103,"w":1,"a":"T","b":0.07},{"p":103,"w":1,"a":"S","b":0.07},{"p":103,"w":1,"a":"E","b":0.56},{"p":103,"w":1,"a":"D","b":1.39},
{"p":104,"w":0.97,"a":"-","b":0.19},{"p":104,"w":0.97,"a":"T","b":0.05},{"p":104,"w":0.97,"a":"L","b":0.09},{"p":104,"w":0.97,"a":"V","b":0.14},{"p":104,"w":0.97,"a":"I","b":0.13},{"p":104,"w":0.97,"a":"S","b":0.26},{"p":104,"w":0.97,"a":"F","b":0.22},
{"p":105,"w":1,"a":"-","b":0.13},{"p":105,"w":1,"a":"S","b":0.04},{"p":105,"w":1,"a":"C","b":0.12},{"p":105,"w":1,"a":"I","b":0.22},{"p":105,"w":1,"a":"V","b":0.23},{"p":105,"w":1,"a":"F","b":0.38},{"p":105,"w":1,"a":"L","b":0.42},
{"p":106,"w":1,"a":"-","b":0.21},{"p":106,"w":1,"a":"M","b":0.05},{"p":106,"w":1,"a":"S","b":0.06},{"p":106,"w":1,"a":"L","b":0.08},{"p":106,"w":1,"a":"I","b":0.12},{"p":106,"w":1,"a":"V","b":0.27},{"p":106,"w":1,"a":"T","b":0.39},
{"p":107,"w":1,"a":"-","b":0.03},{"p":107,"w":1,"a":"V","b":0.06},{"p":107,"w":1,"a":"I","b":0.1},{"p":107,"w":1,"a":"L","b":0.69},{"p":107,"w":1,"a":"F","b":2.04},
{"p":108,"w":1,"a":"-","b":0.15},{"p":108,"w":1,"a":"L","b":0.05},{"p":108,"w":1,"a":"Q","b":0.06},{"p":108,"w":1,"a":"N","b":0.08},{"p":108,"w":1,"a":"T","b":0.06},{"p":108,"w":1,"a":"R","b":0.185},{"p":108,"w":1,"a":"K","b":0.285},{"p":108,"w":1,"a":"E","b":0.32},
{"p":109,"w":0.94,"a":"-","b":0.07},{"p":109,"w":0.94,"a":"T","b":0.01},{"p":109,"w":0.94,"a":"N","b":0.07},{"p":109,"w":0.94,"a":"Y","b":0.135},{"p":109,"w":0.94,"a":"R","b":0.195},{"p":109,"w":0.94,"a":"F","b":0.2},{"p":109,"w":0.94,"a":"H","b":0.29},{"p":109,"w":0.94,"a":"L","b":0.71},
{"p":110,"w":0.93,"a":"-","b":0.165},{"p":110,"w":0.93,"a":"R","b":0.015},{"p":110,"w":0.93,"a":"K","b":0.095},{"p":110,"w":0.93,"a":"E","b":0.165},{"p":110,"w":0.93,"a":"D","b":0.15},{"p":110,"w":0.93,"a":"V","b":0.23},{"p":110,"w":0.93,"a":"T","b":0.345},
{"p":111,"w":0.02,"a":"L","b":1.52},
{"p":112,"w":0.02,"a":"I","b":1.42},
{"p":113,"w":0.95,"a":"-","b":0.11},{"p":113,"w":0.95,"a":"S","b":0.02},{"p":113,"w":0.95,"a":"D","b":0.05},{"p":113,"w":0.95,"a":"Q","b":0.095},{"p":113,"w":0.95,"a":"E","b":0.075},{"p":113,"w":0.95,"a":"K","b":0.16},{"p":113,"w":0.95,"a":"W","b":0.2},{"p":113,"w":0.95,"a":"R","b":0.25},{"p":113,"w":0.95,"a":"G","b":0.485},
{"p":114,"w":0.71,"a":"-","b":0.13},{"p":114,"w":0.71,"a":"A","b":0.05},{"p":114,"w":0.71,"a":"T","b":0.11},{"p":114,"w":0.71,"a":"I","b":0.06},{"p":114,"w":0.71,"a":"S","b":0.06},{"p":114,"w":0.71,"a":"E","b":0.12},{"p":114,"w":0.71,"a":"N","b":0.14},{"p":114,"w":0.71,"a":"D","b":0.215},
{"p":115,"w":0.03,"a":"S","b":0.57},{"p":115,"w":0.03,"a":"K","b":0.25},{"p":115,"w":0.03,"a":"N","b":0.7},
{"p":116,"w":0.05,"a":"-","b":0.04},{"p":116,"w":0.05,"a":"T","b":0.165},{"p":116,"w":0.05,"a":"S","b":0.1},{"p":116,"w":0.05,"a":"L","b":0.11},{"p":116,"w":0.05,"a":"E","b":0.12},{"p":116,"w":0.05,"a":"V","b":0.2},{"p":116,"w":0.05,"a":"A","b":0.43},
{"p":117,"w":0.95,"a":"-","b":0.15},{"p":117,"w":0.95,"a":"A","b":0.05},{"p":117,"w":0.95,"a":"Q","b":0.06},{"p":117,"w":0.95,"a":"S","b":0.07},{"p":117,"w":0.95,"a":"T","b":0.07},{"p":117,"w":0.95,"a":"N","b":0.08},{"p":117,"w":0.95,"a":"R","b":0.11},{"p":117,"w":0.95,"a":"M","b":0.15},{"p":117,"w":0.95,"a":"E","b":0.16},
{"p":118,"w":0.9,"a":"-","b":0.21},{"p":118,"w":0.9,"a":"E","b":0.055},{"p":118,"w":0.9,"a":"R","b":0.07},{"p":118,"w":0.9,"a":"L","b":0.055},{"p":118,"w":0.9,"a":"S","b":0.075},{"p":118,"w":0.9,"a":"D","b":0.1},{"p":118,"w":0.9,"a":"G","b":0.105},
{"p":119,"w":0.93,"a":"-","b":0.15},{"p":119,"w":0.93,"a":"S","b":0.03},{"p":119,"w":0.93,"a":"K","b":0.08},{"p":119,"w":0.93,"a":"R","b":0.08},{"p":119,"w":0.93,"a":"E","b":0.08},{"p":119,"w":0.93,"a":"A","b":0.1},{"p":119,"w":0.93,"a":"G","b":0.11},{"p":119,"w":0.93,"a":"T","b":0.12},{"p":119,"w":0.93,"a":"F","b":0.44},
{"p":120,"w":0.58,"a":"-","b":0.165},{"p":120,"w":0.58,"a":"Q","b":0.015},{"p":120,"w":0.58,"a":"V","b":0.08},{"p":120,"w":0.58,"a":"R","b":0.11},{"p":120,"w":0.58,"a":"N","b":0.11},{"p":120,"w":0.58,"a":"S","b":0.11},{"p":120,"w":0.58,"a":"K","b":0.16},{"p":120,"w":0.58,"a":"T","b":0.32},
{"p":121,"w":0.6,"a":"-","b":0.13},{"p":121,"w":0.6,"a":"M","b":0.04},{"p":121,"w":0.6,"a":"G","b":0.07},{"p":121,"w":0.6,"a":"Q","b":0.06},{"p":121,"w":0.6,"a":"Y","b":0.105},{"p":121,"w":0.6,"a":"F","b":0.095},{"p":121,"w":0.6,"a":"L","b":0.44},{"p":121,"w":0.6,"a":"P","b":0.83},
{"p":122,"w":0.88,"a":"-","b":0.2},{"p":122,"w":0.88,"a":"T","b":0.03},{"p":122,"w":0.88,"a":"D","b":0.05},{"p":122,"w":0.88,"a":"V","b":0.07},{"p":122,"w":0.88,"a":"N","b":0.06},{"p":122,"w":0.88,"a":"M","b":0.1},{"p":122,"w":0.88,"a":"L","b":0.08},{"p":122,"w":0.88,"a":"G","b":0.09},{"p":122,"w":0.88,"a":"Y","b":0.345},
{"p":123,"w":0.84,"a":"-","b":0.04},{"p":123,"w":0.84,"a":"M","b":0.03},{"p":123,"w":0.84,"a":"F","b":0.11},{"p":123,"w":0.84,"a":"I","b":0.28},{"p":123,"w":0.84,"a":"V","b":0.665},{"p":123,"w":0.84,"a":"L","b":0.675},
{"p":124,"w":0.76,"a":"-","b":0.17},{"p":124,"w":0.76,"a":"E","b":0.07},{"p":124,"w":0.76,"a":"N","b":0.055},{"p":124,"w":0.76,"a":"Q","b":0.075},{"p":124,"w":0.76,"a":"S","b":0.09},{"p":124,"w":0.76,"a":"T","b":0.13},{"p":124,"w":0.76,"a":"R","b":0.12},{"p":124,"w":0.76,"a":"K","b":0.16},
{"p":125,"w":0.73,"a":"-","b":0.09},{"p":125,"w":0.73,"a":"A","b":0.06},{"p":125,"w":0.73,"a":"W","b":0.11},{"p":125,"w":0.73,"a":"Y","b":0.11},{"p":125,"w":0.73,"a":"F","b":0.4},{"p":125,"w":0.73,"a":"I","b":0.39},{"p":125,"w":0.73,"a":"L","b":0.44},
{"p":126,"w":0.61,"a":"-","b":0.08},{"p":126,"w":0.61,"a":"L","b":0.07},{"p":126,"w":0.61,"a":"S","b":0.18},{"p":126,"w":0.61,"a":"Y","b":0.23},{"p":126,"w":0.61,"a":"R","b":0.39},{"p":126,"w":0.61,"a":"F","b":0.525},{"p":126,"w":0.61,"a":"C","b":0.705},
{"p":127,"w":0.53,"a":"-","b":0.12},{"p":127,"w":0.53,"a":"G","b":0.06},{"p":127,"w":0.53,"a":"N","b":0.085},{"p":127,"w":0.53,"a":"D","b":0.065},{"p":127,"w":0.53,"a":"K","b":0.19},{"p":127,"w":0.53,"a":"R","b":0.33},{"p":127,"w":0.53,"a":"S","b":0.46},
{"p":128,"w":0.25,"a":"-","b":0.04},{"p":128,"w":0.25,"a":"H","b":0.04},{"p":128,"w":0.25,"a":"V","b":0.215},{"p":128,"w":0.25,"a":"A","b":0.24},{"p":128,"w":0.25,"a":"R","b":0.35},{"p":128,"w":0.25,"a":"K","b":0.825}
]
},
"vconcat": [
{"width": 3600, "height": 450,
 "resolve": {"scale": {"size": "independent"}},
 "layer": [
  {"data": {"name": "L"},
   "transform": [{"filter": {"field": "p", "range": [1, 40]}}, {"stack": "b", "groupby": ["p"], "as": ["y0", "y1"]}, {"filter": "datum.a != '-'"}],
   "mark": {"type": "bar"},
   "encoding": {
    "x": {"field": "p", "type": "ordinal", "scale": {"paddingInner": 0, "paddingOuter": 0},
      "axis": {"title": null, "labelExpr": "datum.value % 5 == 0 ? datum.label : ''", "tickSize": {"condition": {"test": "datum.value % 5 == 0", "value": 22}, "value": 10}, "labelAngle": 0, "labelPadding": 12, "labelOverlap": false}},
    "y": {"field": "y0", "type": "quantitative", "scale": {"domain": [0, 4.3219], "nice": false},
      "axis": {"title": "bits", "values": [0,0.2,0.4,0.6,0.8,1,1.2,1.4,1.6,1.8,2,2.2,2.4,2.6,2.8,3,3.2,3.4,3.6,3.8,4,4.2], "labelExpr": "datum.value % 1 == 0 ? format(datum.value, '.1f') : ''", "tickSize": {"condition": {"test": "datum.value % 1 == 0", "value": 45}, "value": 22}, "labelPadding": 4, "titleFontSize": 78, "titleFontWeight": "normal", "titlePadding": 6}},
    "y2": {"field": "y1"},
    "size": {"field": "w", "type": "quantitative", "scale": {"domain": [0, 1], "range": [0, 80]}, "legend": null},
    "opacity": {"condition": {"test": "datum.b < 0.2", "value": 0.6}, "value": 0.4},
    "color": {"field": "a", "type": "nominal", "legend": null, "scale": {"domain": ["A","C","D","E","F","G","H","I","K","L","M","N","P","Q","R","S","T","V","W","Y"], "range": ["#008000","#000000","#0000ff","#0000ff","#000000","#008000","#008000","#000000","#0000ff","#000000","#000000","#0000ff","#008000","#0000ff","#0000ff","#008000","#008000","#000000","#000000","#000000"]}}
   }},
  {"data": {"name": "L"},
   "transform": [{"filter": {"field": "p", "range": [1, 40]}}, {"stack": "b", "groupby": ["p"], "as": ["y0", "y1"]}, {"filter": "datum.a != '-' && datum.b >= 0.2 && datum.w >= 0.5"}],
   "mark": {"type": "text", "font": "Liberation Sans", "fontWeight": "bold", "baseline": "bottom", "align": "center"},
   "encoding": {
    "x": {"field": "p", "type": "ordinal"},
    "y": {"field": "y0", "type": "quantitative", "scale": {"domain": [0, 4.3219], "nice": false}},
    "text": {"field": "a"},
    "size": {"field": "b", "type": "quantitative", "scale": {"domain": [0, 1.2], "range": [0, 108], "clamp": true}, "legend": null},
    "color": {"field": "a", "type": "nominal", "legend": null}
   }},
  {"data": {"name": "C"}, "transform": [{"filter": {"field": "p", "range": [1, 40]}}],
   "mark": {"type": "rule", "color": "#bebebe", "strokeWidth": 5},
   "encoding": {"x": {"field": "p", "type": "ordinal"}, "y": {"field": "lo", "type": "quantitative", "scale": {"domain": [0, 4.3219], "nice": false}}, "y2": {"field": "hi"}}},
  {"data": {"name": "C"}, "transform": [{"filter": {"field": "p", "range": [1, 40]}}],
   "mark": {"type": "tick", "color": "#bebebe", "thickness": 5, "size": 24},
   "encoding": {"x": {"field": "p", "type": "ordinal"}, "y": {"field": "lo", "type": "quantitative", "scale": {"domain": [0, 4.3219], "nice": false}}}},
  {"data": {"name": "C"}, "transform": [{"filter": {"field": "p", "range": [1, 40]}}],
   "mark": {"type": "tick", "color": "#bebebe", "thickness": 5, "size": 24},
   "encoding": {"x": {"field": "p", "type": "ordinal"}, "y": {"field": "hi", "type": "quantitative", "scale": {"domain": [0, 4.3219], "nice": false}}}}
 ]},
{"width": 3600, "height": 450,
 "resolve": {"scale": {"size": "independent"}},
 "layer": [
  {"data": {"name": "L"},
   "transform": [{"filter": {"field": "p", "range": [41, 80]}}, {"stack": "b", "groupby": ["p"], "as": ["y0", "y1"]}, {"filter": "datum.a != '-'"}],
   "mark": {"type": "bar"},
   "encoding": {
    "x": {"field": "p", "type": "ordinal", "scale": {"paddingInner": 0, "paddingOuter": 0},
      "axis": {"title": null, "labelExpr": "datum.value % 5 == 0 ? datum.label : ''", "tickSize": {"condition": {"test": "datum.value % 5 == 0", "value": 22}, "value": 10}, "labelAngle": 0, "labelPadding": 12, "labelOverlap": false}},
    "y": {"field": "y0", "type": "quantitative", "scale": {"domain": [0, 4.3219], "nice": false},
      "axis": {"title": "bits", "values": [0,0.2,0.4,0.6,0.8,1,1.2,1.4,1.6,1.8,2,2.2,2.4,2.6,2.8,3,3.2,3.4,3.6,3.8,4,4.2], "labelExpr": "datum.value % 1 == 0 ? format(datum.value, '.1f') : ''", "tickSize": {"condition": {"test": "datum.value % 1 == 0", "value": 45}, "value": 22}, "labelPadding": 4, "titleFontSize": 78, "titleFontWeight": "normal", "titlePadding": 6}},
    "y2": {"field": "y1"},
    "size": {"field": "w", "type": "quantitative", "scale": {"domain": [0, 1], "range": [0, 80]}, "legend": null},
    "opacity": {"condition": {"test": "datum.b < 0.2", "value": 0.6}, "value": 0.4},
    "color": {"field": "a", "type": "nominal", "legend": null, "scale": {"domain": ["A","C","D","E","F","G","H","I","K","L","M","N","P","Q","R","S","T","V","W","Y"], "range": ["#008000","#000000","#0000ff","#0000ff","#000000","#008000","#008000","#000000","#0000ff","#000000","#000000","#0000ff","#008000","#0000ff","#0000ff","#008000","#008000","#000000","#000000","#000000"]}}
   }},
  {"data": {"name": "L"},
   "transform": [{"filter": {"field": "p", "range": [41, 80]}}, {"stack": "b", "groupby": ["p"], "as": ["y0", "y1"]}, {"filter": "datum.a != '-' && datum.b >= 0.2 && datum.w >= 0.5"}],
   "mark": {"type": "text", "font": "Liberation Sans", "fontWeight": "bold", "baseline": "bottom", "align": "center"},
   "encoding": {
    "x": {"field": "p", "type": "ordinal"},
    "y": {"field": "y0", "type": "quantitative", "scale": {"domain": [0, 4.3219], "nice": false}},
    "text": {"field": "a"},
    "size": {"field": "b", "type": "quantitative", "scale": {"domain": [0, 1.2], "range": [0, 108], "clamp": true}, "legend": null},
    "color": {"field": "a", "type": "nominal", "legend": null}
   }},
  {"data": {"name": "C"}, "transform": [{"filter": {"field": "p", "range": [41, 80]}}],
   "mark": {"type": "rule", "color": "#bebebe", "strokeWidth": 5},
   "encoding": {"x": {"field": "p", "type": "ordinal"}, "y": {"field": "lo", "type": "quantitative", "scale": {"domain": [0, 4.3219], "nice": false}}, "y2": {"field": "hi"}}},
  {"data": {"name": "C"}, "transform": [{"filter": {"field": "p", "range": [41, 80]}}],
   "mark": {"type": "tick", "color": "#bebebe", "thickness": 5, "size": 24},
   "encoding": {"x": {"field": "p", "type": "ordinal"}, "y": {"field": "lo", "type": "quantitative", "scale": {"domain": [0, 4.3219], "nice": false}}}},
  {"data": {"name": "C"}, "transform": [{"filter": {"field": "p", "range": [41, 80]}}],
   "mark": {"type": "tick", "color": "#bebebe", "thickness": 5, "size": 24},
   "encoding": {"x": {"field": "p", "type": "ordinal"}, "y": {"field": "hi", "type": "quantitative", "scale": {"domain": [0, 4.3219], "nice": false}}}}
 ]},
{"width": 3600, "height": 450,
 "resolve": {"scale": {"size": "independent"}},
 "layer": [
  {"data": {"name": "L"},
   "transform": [{"filter": {"field": "p", "range": [81, 120]}}, {"stack": "b", "groupby": ["p"], "as": ["y0", "y1"]}, {"filter": "datum.a != '-'"}],
   "mark": {"type": "bar"},
   "encoding": {
    "x": {"field": "p", "type": "ordinal", "scale": {"paddingInner": 0, "paddingOuter": 0},
      "axis": {"title": null, "labelExpr": "datum.value % 5 == 0 ? datum.label : ''", "tickSize": {"condition": {"test": "datum.value % 5 == 0", "value": 22}, "value": 10}, "labelAngle": 0, "labelPadding": 12, "labelOverlap": false}},
    "y": {"field": "y0", "type": "quantitative", "scale": {"domain": [0, 4.3219], "nice": false},
      "axis": {"title": "bits", "values": [0,0.2,0.4,0.6,0.8,1,1.2,1.4,1.6,1.8,2,2.2,2.4,2.6,2.8,3,3.2,3.4,3.6,3.8,4,4.2], "labelExpr": "datum.value % 1 == 0 ? format(datum.value, '.1f') : ''", "tickSize": {"condition": {"test": "datum.value % 1 == 0", "value": 45}, "value": 22}, "labelPadding": 4, "titleFontSize": 78, "titleFontWeight": "normal", "titlePadding": 6}},
    "y2": {"field": "y1"},
    "size": {"field": "w", "type": "quantitative", "scale": {"domain": [0, 1], "range": [0, 80]}, "legend": null},
    "opacity": {"condition": {"test": "datum.b < 0.2", "value": 0.6}, "value": 0.4},
    "color": {"field": "a", "type": "nominal", "legend": null, "scale": {"domain": ["A","C","D","E","F","G","H","I","K","L","M","N","P","Q","R","S","T","V","W","Y"], "range": ["#008000","#000000","#0000ff","#0000ff","#000000","#008000","#008000","#000000","#0000ff","#000000","#000000","#0000ff","#008000","#0000ff","#0000ff","#008000","#008000","#000000","#000000","#000000"]}}
   }},
  {"data": {"name": "L"},
   "transform": [{"filter": {"field": "p", "range": [81, 120]}}, {"stack": "b", "groupby": ["p"], "as": ["y0", "y1"]}, {"filter": "datum.a != '-' && datum.b >= 0.2 && datum.w >= 0.5"}],
   "mark": {"type": "text", "font": "Liberation Sans", "fontWeight": "bold", "baseline": "bottom", "align": "center"},
   "encoding": {
    "x": {"field": "p", "type": "ordinal"},
    "y": {"field": "y0", "type": "quantitative", "scale": {"domain": [0, 4.3219], "nice": false}},
    "text": {"field": "a"},
    "size": {"field": "b", "type": "quantitative", "scale": {"domain": [0, 1.2], "range": [0, 108], "clamp": true}, "legend": null},
    "color": {"field": "a", "type": "nominal", "legend": null}
   }},
  {"data": {"name": "C"}, "transform": [{"filter": {"field": "p", "range": [81, 120]}}],
   "mark": {"type": "rule", "color": "#bebebe", "strokeWidth": 5},
   "encoding": {"x": {"field": "p", "type": "ordinal"}, "y": {"field": "lo", "type": "quantitative", "scale": {"domain": [0, 4.3219], "nice": false}}, "y2": {"field": "hi"}}},
  {"data": {"name": "C"}, "transform": [{"filter": {"field": "p", "range": [81, 120]}}],
   "mark": {"type": "tick", "color": "#bebebe", "thickness": 5, "size": 24},
   "encoding": {"x": {"field": "p", "type": "ordinal"}, "y": {"field": "lo", "type": "quantitative", "scale": {"domain": [0, 4.3219], "nice": false}}}},
  {"data": {"name": "C"}, "transform": [{"filter": {"field": "p", "range": [81, 120]}}],
   "mark": {"type": "tick", "color": "#bebebe", "thickness": 5, "size": 24},
   "encoding": {"x": {"field": "p", "type": "ordinal"}, "y": {"field": "hi", "type": "quantitative", "scale": {"domain": [0, 4.3219], "nice": false}}}}
 ]},
{"width": 720, "height": 450,
 "resolve": {"scale": {"size": "independent"}},
 "layer": [
  {"data": {"name": "L"},
   "transform": [{"filter": {"field": "p", "range": [121, 128]}}, {"stack": "b", "groupby": ["p"], "as": ["y0", "y1"]}, {"filter": "datum.a != '-'"}],
   "mark": {"type": "bar"},
   "encoding": {
    "x": {"field": "p", "type": "ordinal", "scale": {"paddingInner": 0, "paddingOuter": 0},
      "axis": {"title": null, "labelExpr": "datum.value % 5 == 0 ? datum.label : ''", "tickSize": {"condition": {"test": "datum.value % 5 == 0", "value": 22}, "value": 10}, "labelAngle": 0, "labelPadding": 12, "labelOverlap": false}},
    "y": {"field": "y0", "type": "quantitative", "scale": {"domain": [0, 4.3219], "nice": false},
      "axis": {"title": "bits", "values": [0,0.2,0.4,0.6,0.8,1,1.2,1.4,1.6,1.8,2,2.2,2.4,2.6,2.8,3,3.2,3.4,3.6,3.8,4,4.2], "labelExpr": "datum.value % 1 == 0 ? format(datum.value, '.1f') : ''", "tickSize": {"condition": {"test": "datum.value % 1 == 0", "value": 45}, "value": 22}, "labelPadding": 4, "titleFontSize": 78, "titleFontWeight": "normal", "titlePadding": 6}},
    "y2": {"field": "y1"},
    "size": {"field": "w", "type": "quantitative", "scale": {"domain": [0, 1], "range": [0, 80]}, "legend": null},
    "opacity": {"condition": {"test": "datum.b < 0.2", "value": 0.6}, "value": 0.4},
    "color": {"field": "a", "type": "nominal", "legend": null, "scale": {"domain": ["A","C","D","E","F","G","H","I","K","L","M","N","P","Q","R","S","T","V","W","Y"], "range": ["#008000","#000000","#0000ff","#0000ff","#000000","#008000","#008000","#000000","#0000ff","#000000","#000000","#0000ff","#008000","#0000ff","#0000ff","#008000","#008000","#000000","#000000","#000000"]}}
   }},
  {"data": {"name": "L"},
   "transform": [{"filter": {"field": "p", "range": [121, 128]}}, {"stack": "b", "groupby": ["p"], "as": ["y0", "y1"]}, {"filter": "datum.a != '-' && datum.b >= 0.2 && datum.w >= 0.5"}],
   "mark": {"type": "text", "font": "Liberation Sans", "fontWeight": "bold", "baseline": "bottom", "align": "center"},
   "encoding": {
    "x": {"field": "p", "type": "ordinal"},
    "y": {"field": "y0", "type": "quantitative", "scale": {"domain": [0, 4.3219], "nice": false}},
    "text": {"field": "a"},
    "size": {"field": "b", "type": "quantitative", "scale": {"domain": [0, 1.2], "range": [0, 108], "clamp": true}, "legend": null},
    "color": {"field": "a", "type": "nominal", "legend": null}
   }},
  {"data": {"name": "C"}, "transform": [{"filter": {"field": "p", "range": [121, 128]}}],
   "mark": {"type": "rule", "color": "#bebebe", "strokeWidth": 5},
   "encoding": {"x": {"field": "p", "type": "ordinal"}, "y": {"field": "lo", "type": "quantitative", "scale": {"domain": [0, 4.3219], "nice": false}}, "y2": {"field": "hi"}}},
  {"data": {"name": "C"}, "transform": [{"filter": {"field": "p", "range": [121, 128]}}],
   "mark": {"type": "tick", "color": "#bebebe", "thickness": 5, "size": 24},
   "encoding": {"x": {"field": "p", "type": "ordinal"}, "y": {"field": "lo", "type": "quantitative", "scale": {"domain": [0, 4.3219], "nice": false}}}},
  {"data": {"name": "C"}, "transform": [{"filter": {"field": "p", "range": [121, 128]}}],
   "mark": {"type": "tick", "color": "#bebebe", "thickness": 5, "size": 24},
   "encoding": {"x": {"field": "p", "type": "ordinal"}, "y": {"field": "hi", "type": "quantitative", "scale": {"domain": [0, 4.3219], "nice": false}}}}
 ]}
]
}
